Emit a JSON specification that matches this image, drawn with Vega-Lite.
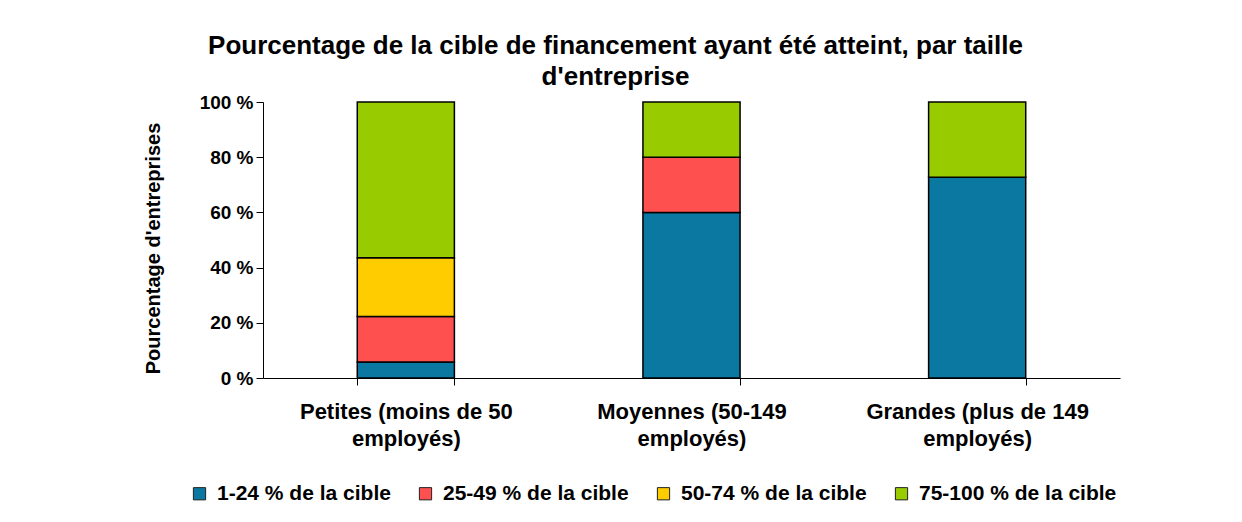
{
  "$schema": "https://vega.github.io/schema/vega-lite/v6.json",
  "autosize": {"type": "none"},
  "width": 857,
  "height": 276,
  "padding": {"left": 263, "top": 102, "right": 122, "bottom": 144},
  "background": "white",
  "title": {
    "text": ["Pourcentage de la cible de financement ayant été atteint, par taille", "d'entreprise"],
    "font": "Liberation Sans",
    "fontSize": 26,
    "fontWeight": "bold",
    "color": "black",
    "anchor": "middle",
    "dx": -76,
    "offset": 3,
    "lineHeight": 31
  },
  "data": {
    "values": [
      {"taille": "Petites (moins de 50 employés)", "tranche": "1-24 % de la cible", "pct": 5.8},
      {"taille": "Petites (moins de 50 employés)", "tranche": "25-49 % de la cible", "pct": 16.5},
      {"taille": "Petites (moins de 50 employés)", "tranche": "50-74 % de la cible", "pct": 21.3},
      {"taille": "Petites (moins de 50 employés)", "tranche": "75-100 % de la cible", "pct": 56.4},
      {"taille": "Moyennes (50-149 employés)", "tranche": "1-24 % de la cible", "pct": 60},
      {"taille": "Moyennes (50-149 employés)", "tranche": "25-49 % de la cible", "pct": 20},
      {"taille": "Moyennes (50-149 employés)", "tranche": "75-100 % de la cible", "pct": 20},
      {"taille": "Grandes (plus de 149 employés)", "tranche": "1-24 % de la cible", "pct": 72.7},
      {"taille": "Grandes (plus de 149 employés)", "tranche": "75-100 % de la cible", "pct": 27.3}
    ]
  },
  "mark": {"type": "bar", "stroke": "black", "strokeWidth": 1.5},
  "encoding": {
    "x": {
      "field": "taille",
      "type": "nominal",
      "sort": null,
      "scale": {"paddingInner": 0.66, "paddingOuter": 0.33},
      "axis": {
        "title": null,
        "labelAngle": 0,
        "labelExpr": "datum.label ? [replace(datum.label, ' employés)', ''), 'employés)'] : ''",
        "labelFont": "Liberation Sans",
        "labelFontSize": 22,
        "labelFontWeight": "bold",
        "labelColor": "black",
        "labelLineHeight": 27,
        "labelPadding": 16,
        "labelLimit": 400,
        "tickBand": "extent",
        "tickSize": 7,
        "tickColor": "black",
        "domainColor": "black",
        "domainWidth": 1,
        "grid": false
      }
    },
    "y": {
      "field": "pct",
      "type": "quantitative",
      "stack": "zero",
      "scale": {"domain": [0, 100], "nice": false},
      "axis": {
        "title": "Pourcentage d'entreprises",
        "titleFont": "Liberation Sans",
        "titleFontSize": 20,
        "titleFontWeight": "bold",
        "titleColor": "black",
        "titlePadding": 36,
        "titleY": 146,
        "values": [0, 20, 40, 60, 80, 100],
        "labelExpr": "datum.value + ' %'",
        "labelFont": "Liberation Sans",
        "labelFontSize": 19,
        "labelFontWeight": "bold",
        "labelColor": "black",
        "labelPadding": 3,
        "tickSize": 7,
        "tickColor": "black",
        "domainColor": "black",
        "grid": false
      }
    },
    "order": {"field": "tranche", "type": "nominal", "sort": "ascending"},
    "color": {
      "field": "tranche",
      "type": "nominal",
      "scale": {
        "domain": ["1-24 % de la cible", "25-49 % de la cible", "50-74 % de la cible", "75-100 % de la cible"],
        "range": ["#0A78A0", "#FF5050", "#FFCC00", "#99CC00"]
      },
      "legend": {
        "title": null,
        "orient": "none",
        "direction": "horizontal",
        "legendX": -74,
        "legendY": 381,
        "symbolType": "square",
        "symbolSize": 150,
        "symbolStrokeColor": "#222",
        "symbolStrokeWidth": 1,
        "symbolOpacity": 1,
        "labelFont": "Liberation Sans",
        "labelFontSize": 21,
        "labelFontWeight": "bold",
        "labelColor": "black",
        "labelOffset": 7,
        "columnPadding": 24,
        "labelLimit": 400
      }
    }
  },
  "config": {"view": {"stroke": null}}
}
